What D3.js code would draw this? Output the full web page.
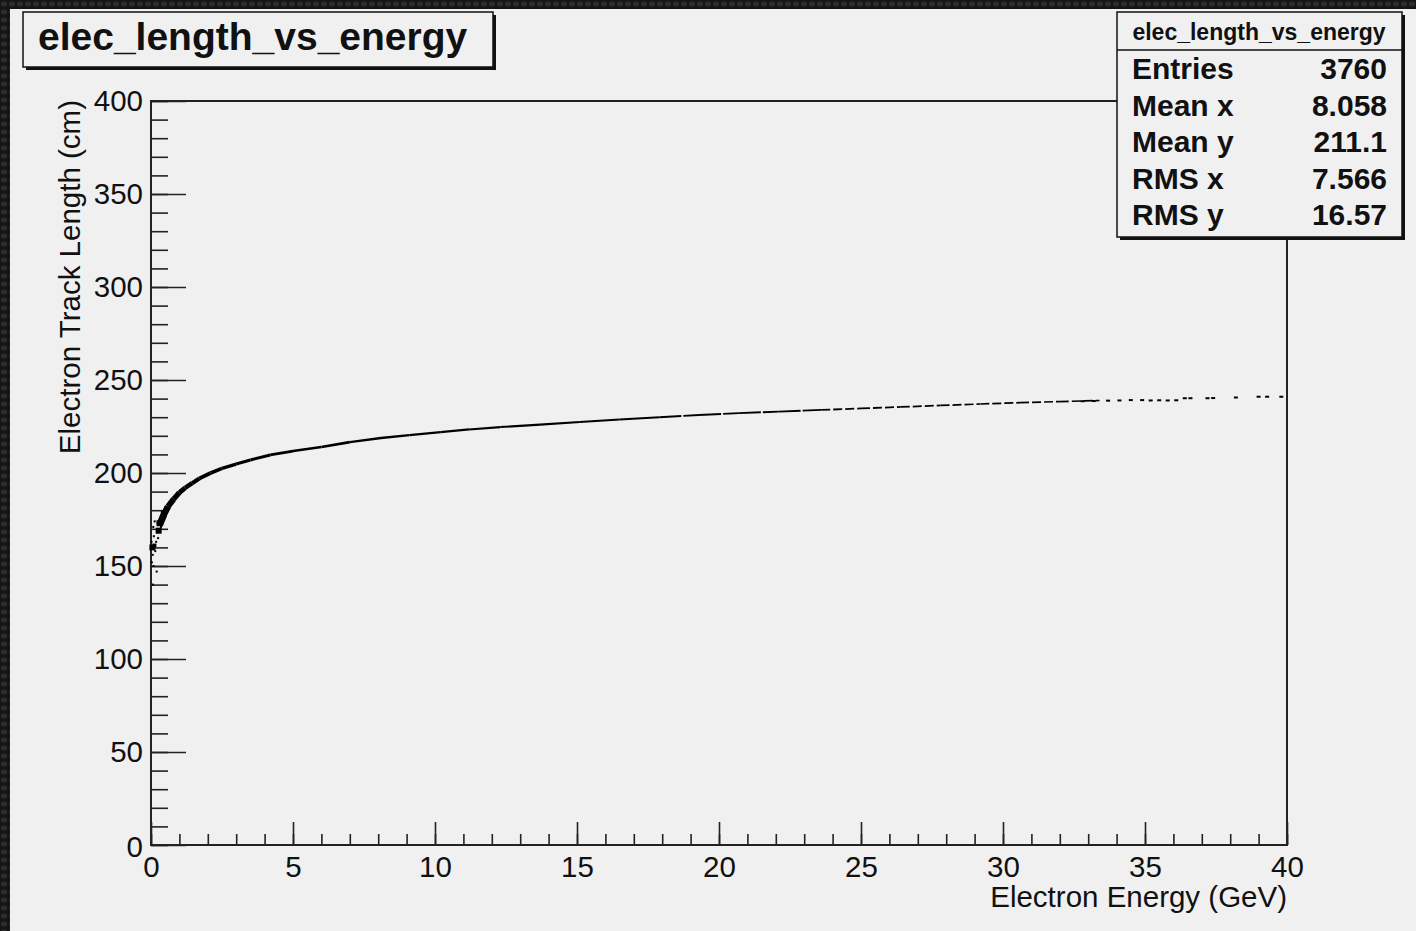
<!DOCTYPE html>
<html>
<head>
<meta charset="utf-8">
<script src="https://cdn.jsdelivr.net/npm/d3@7"></script>
<style>
  html, body { margin:0; padding:0; background:#1a1a1a; }
  svg { display:block; font-family:"Liberation Sans", Arial, sans-serif; }
</style>
</head>
<body>
<div id="chart"></div>
<script>
// histogram title + stats box
var histName = "elec_length_vs_energy";
var statNames = ["Entries", "Mean x", "Mean y", "RMS x", "RMS y"];
var statValues = ["3760", "8.058", "211.1", "7.566", "16.57"];

// axes
var xTickMajor = [0, 5, 10, 15, 20, 25, 30, 35, 40];
var yTickMajor = [0, 50, 100, 150, 200, 250, 300, 350, 400];
var xTitle = "Electron Energy (GeV)";
var yTitle = "Electron Track Length (cm)";

// main band of the scatter: energy, length, relative entries
var bandE = [0.3, 0.45, 0.6, 0.8, 1.0, 1.2, 1.45, 1.7, 2.1, 2.5, 3.0, 3.5, 4.2, 5.0, 6.0, 7.0, 8.1, 9.1,
             10.2, 11.2, 12.3, 13.7, 15.1, 16.5, 17.9, 19.3, 20.7, 22.1, 23.6, 25.0, 26.4, 27.8, 29.2,
             30.6, 32.0, 33.4];
var bandL = [172, 177.5, 182, 186, 189.5, 192, 194.5, 197, 200, 202.5, 204.8, 207, 209.7, 211.8, 214,
             216.6, 218.8, 220.4, 222, 223.4, 224.7, 226, 227.4, 228.8, 230, 231.2, 232.2, 233, 233.9,
             234.7, 235.5, 236.3, 237.1, 237.8, 238.4, 239];
var bandN = [200, 190, 170, 150, 130, 115, 100, 90, 80, 70, 60, 55, 50, 45, 40, 36, 33, 30,
             28, 26, 24, 22, 20, 18, 16, 15, 14, 13, 12, 11, 10, 9, 8, 7, 6, 5];

// scattered cells at low energy
var lowE = [0.30, 0.27, 0.45, 0.40, 0.55, 0.12, 0.05, 0.10, 0.18, 0.22, 0.06, 0.15, 0.08, 0.25, 0.03, 0.20, 0.07, 0.35, 0.13, 0.02, 0.09];
var lowL = [173, 169, 178, 176, 181, 161, 160, 166, 163, 168, 156, 158, 171, 165, 152, 147, 140, 171, 174, 163, 150];
var lowN = [3, 3, 3, 2, 2, 2, 3, 1, 1, 1, 1, 1, 1, 1, 1, 1, 1, 1, 1, 1, 1];

// sparse tail at high energy
var tailE = [32.8, 33.2, 33.7, 34.1, 34.5, 34.9, 35.2, 35.5, 35.8, 36.1, 36.4, 36.6, 37.2, 37.4, 38.2, 39.0, 39.3, 39.8];
var tailL = [238.6, 238.7, 238.9, 239, 239.2, 239.2, 239, 239.1, 239, 239.1, 240.2, 240.2, 240.2, 240.3, 240.6, 241, 241, 241];

var W = 1416, H = 931;
var svg = d3.select("#chart").append("svg").attr("width", W).attr("height", H);

// dark outer frame with a little texture
var defs = svg.append("defs");
var pat = defs.append("pattern").attr("id", "dots").attr("width", 8).attr("height", 8)
  .attr("patternUnits", "userSpaceOnUse");
pat.append("rect").attr("width", 8).attr("height", 8).attr("fill", "#151515");
pat.append("ellipse").attr("cx", 4).attr("cy", 4).attr("rx", 3).attr("ry", 2.5).attr("fill", "#2e2e2e");
svg.append("rect").attr("width", W).attr("height", H).attr("fill", "url(#dots)");
svg.append("rect").attr("x", 10).attr("y", 9).attr("width", W - 10).attr("height", H - 9).attr("fill", "#f0f0f0");

var x = d3.scaleLinear().domain([0, 40]).range([151, 1287]);
var y = d3.scaleLinear().domain([0, 400]).range([845, 101]);

// minor ticks
svg.append("g").attr("transform", "translate(0,845)")
  .call(d3.axisBottom(x).tickValues(d3.range(0, 41, 1)).tickSize(-11).tickFormat(""))
  .call(function(g){ g.select(".domain").remove(); });
svg.append("g").attr("transform", "translate(151,0)")
  .call(d3.axisLeft(y).tickValues(d3.range(0, 401, 10)).tickSize(-17).tickFormat(""))
  .call(function(g){ g.select(".domain").remove(); });

// major ticks + labels
var gx = svg.append("g").attr("transform", "translate(0,845)")
  .call(d3.axisBottom(x).tickValues(xTickMajor).tickSize(-23).tickPadding(11));
gx.select(".domain").remove();
gx.selectAll("text").attr("font-size", 29.5).attr("fill", "#111").attr("font-family", "Liberation Sans");

var gy = svg.append("g").attr("transform", "translate(151,0)")
  .call(d3.axisLeft(y).tickValues(yTickMajor).tickSize(-35).tickPadding(8));
gy.select(".domain").remove();
gy.selectAll("text").attr("font-size", 29.5).attr("fill", "#111").attr("font-family", "Liberation Sans");
gy.selectAll("text").filter(function(d){ return d === 0; }).attr("dy", "0.4em");

svg.selectAll(".tick line").attr("stroke", "#222").attr("stroke-width", 1.6);

// frame
svg.append("rect").attr("x", 151).attr("y", 101).attr("width", 1136).attr("height", 744)
  .attr("fill", "none").attr("stroke", "#222").attr("stroke-width", 2);

// axis titles
svg.append("text").attr("x", 1287).attr("y", 907).attr("text-anchor", "end")
  .attr("font-size", 29.5).attr("fill", "#111").text(xTitle);
svg.append("text").attr("transform", "translate(80,100) rotate(-90)").attr("text-anchor", "end")
  .attr("font-size", 29.5).attr("fill", "#111").text(yTitle);

// scatter band
var wScale = d3.scaleLinear().domain([0, 200]).range([1.5, 7]);
var line = d3.line().x(function(d){ return x(d[0]); }).y(function(d){ return y(d[1]); });
var plot = svg.append("g");
for (var i = 0; i < bandE.length - 1; i++) {
  var n = (bandN[i] + bandN[i + 1]) / 2;
  plot.append("path")
    .attr("d", line([[bandE[i], bandL[i]], [bandE[i + 1], bandL[i + 1]]]))
    .attr("fill", "none").attr("stroke", "#000")
    .attr("stroke-width", wScale(n))
    .attr("stroke-dasharray", n < 12 ? "9,3" : (n < 17 ? "22,2" : null))
    .attr("stroke-linecap", "butt");
}

var sScale = d3.scaleLinear().domain([1, 3]).range([2, 6]);
plot.selectAll(".low").data(d3.range(lowE.length)).enter().append("rect")
  .attr("x", function(i){ return x(lowE[i]) - sScale(lowN[i]) / 2; })
  .attr("y", function(i){ return y(lowL[i]) - sScale(lowN[i]) / 2; })
  .attr("width", function(i){ return sScale(lowN[i]); })
  .attr("height", function(i){ return sScale(lowN[i]); })
  .attr("fill", "#000");

plot.selectAll(".tail").data(d3.range(tailE.length)).enter().append("rect")
  .attr("x", function(i){ return x(tailE[i]) - 2; })
  .attr("y", function(i){ return y(tailL[i]) - 1; })
  .attr("width", 4).attr("height", 2)
  .attr("fill", "#000");

// title box
var tb = svg.append("g");
tb.append("rect").attr("x", 26).attr("y", 15).attr("width", 470).attr("height", 55).attr("fill", "#111");
tb.append("rect").attr("x", 23).attr("y", 12).attr("width", 470).attr("height", 55)
  .attr("fill", "#f0f0f0").attr("stroke", "#111").attr("stroke-width", 1.5);
tb.append("text").attr("x", 38).attr("y", 50).attr("font-size", 39).attr("font-weight", "bold")
  .attr("fill", "#111").text(histName);

// stats box
var sb = svg.append("g");
sb.append("rect").attr("x", 1120).attr("y", 15).attr("width", 285).attr("height", 225).attr("fill", "#111");
sb.append("rect").attr("x", 1117).attr("y", 12).attr("width", 285).attr("height", 225)
  .attr("fill", "#f0f0f0").attr("stroke", "#111").attr("stroke-width", 1.5);
sb.append("line").attr("x1", 1117).attr("x2", 1402).attr("y1", 50).attr("y2", 50)
  .attr("stroke", "#111").attr("stroke-width", 1.5);
sb.append("text").attr("x", 1259).attr("y", 40).attr("text-anchor", "middle")
  .attr("font-size", 23).attr("font-weight", "bold").attr("fill", "#111").text(histName);
var rowY = d3.scaleLinear().domain([0, 4]).range([79, 225]);
statNames.forEach(function(n, i){
  sb.append("text").attr("x", 1132).attr("y", rowY(i)).attr("font-size", 30).attr("font-weight", "bold")
    .attr("fill", "#111").text(n);
  sb.append("text").attr("x", 1387).attr("y", rowY(i)).attr("text-anchor", "end").attr("font-size", 30)
    .attr("font-weight", "bold").attr("fill", "#111").text(statValues[i]);
});
</script>
</body>
</html>
